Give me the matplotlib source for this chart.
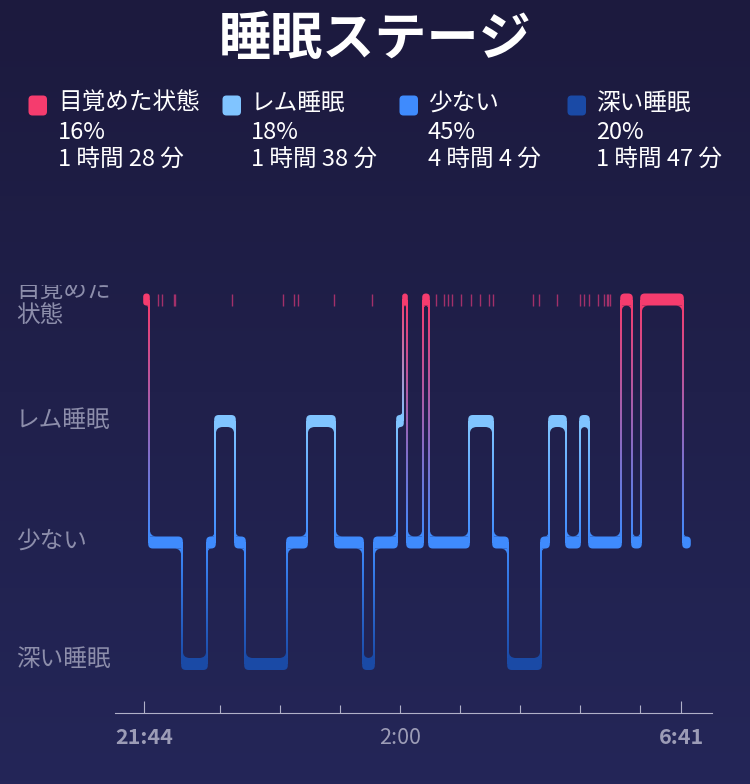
import numpy as np
import matplotlib
matplotlib.use("Agg")
import matplotlib.pyplot as plt
from matplotlib.path import Path
from matplotlib.patches import PathPatch, FancyBboxPatch
from matplotlib.transforms import Bbox
import matplotlib.colors as mcolors

plt.rcParams['font.family'] = ['Noto Sans CJK JP', 'DejaVu Sans']

# ---------------- data ----------------
title = "睡眠ステージ"
stage_labels = ["深い睡眠", "少ない", "レム睡眠", "目覚めた状態"]   # stage index 0..3
stage_colors = ["#1a4aa6", "#3f8bfd", "#80c4ff", "#f53c6e"]
legend_order = [3, 2, 1, 0]
legend_pct = ["16%", "18%", "45%", "20%"]
legend_dur = ["1 時間 28 分", "1 時間 38 分", "4 時間 4 分", "1 時間 47 分"]

# minutes after 21:44
seg_stage = [3, 1, 0, 1, 2, 1, 0, 1, 2, 1, 0, 1, 2, 3, 1, 3, 1, 2, 1, 0, 1, 2, 1, 2, 1, 3, 1, 3, 1]
seg_start = [0, 5, 38, 63, 71, 91, 101, 143, 163, 191, 219, 230, 253, 259, 263, 279, 285,
             325, 349, 364, 397, 405, 422, 436, 445, 477, 488, 497, 539]
seg_last_end = 546
short_wakes = [14.3, 18.3, 30.2, 31.2, 88.3, 139.3, 150.3, 154.3, 189.7, 227.7, 292, 300.3,
               304.3, 308.3, 317.3, 327.3, 336.3, 345.3, 349.3, 389.3, 395, 413.3, 436.3,
               440.3, 445.3, 454.3, 460.3, 462.7, 464.3, 465.7]

tick_minutes = [0, 76, 136, 196, 256, 316, 376, 436, 496, 537]
tick_labels = ["21:44", "", "", "", "2:00", "", "", "", "", "6:41"]

# ---------------- figure ----------------
W, H = 750, 784
fig = plt.figure(figsize=(W / 100, H / 100), dpi=100)

# background gradient
bg = fig.add_axes([0, 0, 1, 1])
bg.axis('off')
c_top = np.array([28, 26, 62]) / 255
c_bot = np.array([36, 38, 88]) / 255
g = np.linspace(0, 1, 256)[:, None, None]
img = c_top[None, None, :] * (1 - g) + c_bot[None, None, :] * g
bg.imshow(img, aspect='auto', extent=[0, 1, 0, 1], origin='upper')

# overlay in pixel coordinates (title, legend, y labels)
ov = fig.add_axes([0, 0, 1, 1])
ov.set_xlim(0, W)
ov.set_ylim(H, 0)
ov.axis('off')
ov.patch.set_alpha(0)

ov.text(375, 39, title, ha='center', va='center', fontsize=37.5,
        fontweight='bold', color='white')

sq_x = [28.5, 222.5, 399.5, 567.5]
txt_x = [58, 251, 428, 596]
for k, st in enumerate(legend_order):
    ov.add_patch(FancyBboxPatch((sq_x[k], 95.5), 18.5, 20,
                                boxstyle='round,pad=0,rounding_size=4',
                                facecolor=stage_colors[st], edgecolor='none'))
    for line, yy in zip([stage_labels[st], legend_pct[k], legend_dur[k]], [103, 132, 160]):
        ov.text(txt_x[k], yy, line, ha='left', va='center', fontsize=17, color='white')

ylab_color = '#8d8eab'
wake_lab = stage_labels[3]
t1 = ov.text(16, 290, wake_lab[:4], ha='left', va='center', fontsize=17, color=ylab_color)
t1.set_clip_on(True)
t1.set_clip_box(Bbox([[0, 0], [W, H - 285]]))
ov.text(16, 315, wake_lab[4:], ha='left', va='center', fontsize=17, color=ylab_color)
for st, yy in zip([2, 1, 0], [420, 541, 660]):
    ov.text(16, yy, stage_labels[st], ha='left', va='center', fontsize=17, color=ylab_color)

# ---------------- chart axes ----------------
ax = fig.add_axes([115 / W, 1 - 713 / H, (712 - 115) / W, (713 - 270) / H])
ax.patch.set_alpha(0)

LEVEL = 121.5
BH = 12.0
LW = 1.6
R_OUT = 4.5
R_FIL = 7.0


def band_path(x0, x1, yb, yt, tl, tr, br, bl):
    V = [(x0 + bl, yb)]
    C = [Path.MOVETO]
    V += [(x1 - br, yb)]; C += [Path.LINETO]
    if br > 0:
        V += [(x1, yb), (x1, yb + br)]; C += [Path.CURVE3] * 2
    V += [(x1, yt - tr)]; C += [Path.LINETO]
    if tr > 0:
        V += [(x1, yt), (x1 - tr, yt)]; C += [Path.CURVE3] * 2
    V += [(x0 + tl, yt)]; C += [Path.LINETO]
    if tl > 0:
        V += [(x0, yt), (x0, yt - tl)]; C += [Path.CURVE3] * 2
    V += [(x0, yb + bl)]; C += [Path.LINETO]
    if bl > 0:
        V += [(x0, yb), (x0 + bl, yb)]; C += [Path.CURVE3] * 2
    V += [(x0, yb)]; C += [Path.CLOSEPOLY]
    return Path(V, C)


def fillet_path(cx, cy, dx, dy, r):
    V = [(cx, cy), (cx + dx * r, cy), (cx, cy), (cx, cy + dy * r), (cx, cy)]
    C = [Path.MOVETO, Path.LINETO, Path.CURVE3, Path.CURVE3, Path.CLOSEPOLY]
    return Path(V, C)


seg_end = seg_start[1:] + [seg_last_end]
n = len(seg_stage)
for i in range(n):
    s, t0, t1e = seg_stage[i], seg_start[i], seg_end[i]
    yt = LEVEL * s
    yb = yt - BH
    x0, x1 = t0 - LW / 2, t1e + LW / 2
    r = min(R_OUT, (x1 - x0) / 2, BH / 2)
    rf = min(R_FIL, max((t1e - t0) / 2, 1.5))
    tl = tr = br = bl = r
    fil = []
    if i > 0:
        if seg_stage[i - 1] > s:
            tl = 0; fil.append((t0 + LW / 2, yt, 1, 1))
        else:
            bl = 0; fil.append((t0 + LW / 2, yb, 1, -1))
    if i < n - 1:
        if seg_stage[i + 1] > s:
            tr = 0; fil.append((t1e - LW / 2, yt, -1, 1))
        else:
            br = 0; fil.append((t1e - LW / 2, yb, -1, -1))
    col = stage_colors[s]
    ax.add_patch(PathPatch(band_path(x0, x1, yb, yt, tl, tr, br, bl),
                           facecolor=col, edgecolor='none', zorder=3))
    for (cx, cy, dx, dy) in fil:
        ax.add_patch(PathPatch(fillet_path(cx, cy, dx, dy, rf),
                               facecolor=col, edgecolor='none', zorder=3))

# gradient connectors (one small gradient image per transition)
NS = 64
for i in range(1, n):
    a, b = seg_stage[i - 1], seg_stage[i]
    lo, hi = min(a, b), max(a, b)
    t = seg_start[i]
    y_lo = LEVEL * lo - BH / 2
    y_hi = LEVEL * hi - BH / 2
    c_lo = np.array(mcolors.to_rgb(stage_colors[lo]))
    c_hi = np.array(mcolors.to_rgb(stage_colors[hi]))
    f = np.linspace(0, 1, NS)[:, None, None]
    grad_img = c_lo[None, None, :] * (1 - f) + c_hi[None, None, :] * f
    ax.imshow(grad_img, origin='lower', aspect='auto', interpolation='bilinear',
              extent=[t - LW / 2, t + LW / 2, y_lo, y_hi], zorder=2)

# short wake marks
ax.vlines(short_wakes, LEVEL * 3 - BH, LEVEL * 3, colors='#a3306a', linewidth=1.0, zorder=2)

ax.set_xlim(-29, 568)
ax.set_ylim(-55, 388)

# axis styling
for sp in ['top', 'left', 'right']:
    ax.spines[sp].set_visible(False)
ax.spines['bottom'].set_color('#b0b0c8')
ax.spines['bottom'].set_linewidth(0.8)
ax.set_yticks([])
ax.set_xticks(tick_minutes, tick_labels)
ax.tick_params(axis='x', direction='in', length=5.5, width=0.8, color='#b0b0c8',
               labelsize=15.5, labelcolor='#9c9cb6', pad=10)
ticks = ax.xaxis.get_major_ticks()
ticks[0].tick1line.set_markersize(8.5)
ticks[-1].tick1line.set_markersize(8.5)
for lbl in ax.get_xticklabels():
    if lbl.get_text() in ("21:44", "6:41"):
        lbl.set_fontweight('bold')

fig.savefig("out.png", dpi=100)
